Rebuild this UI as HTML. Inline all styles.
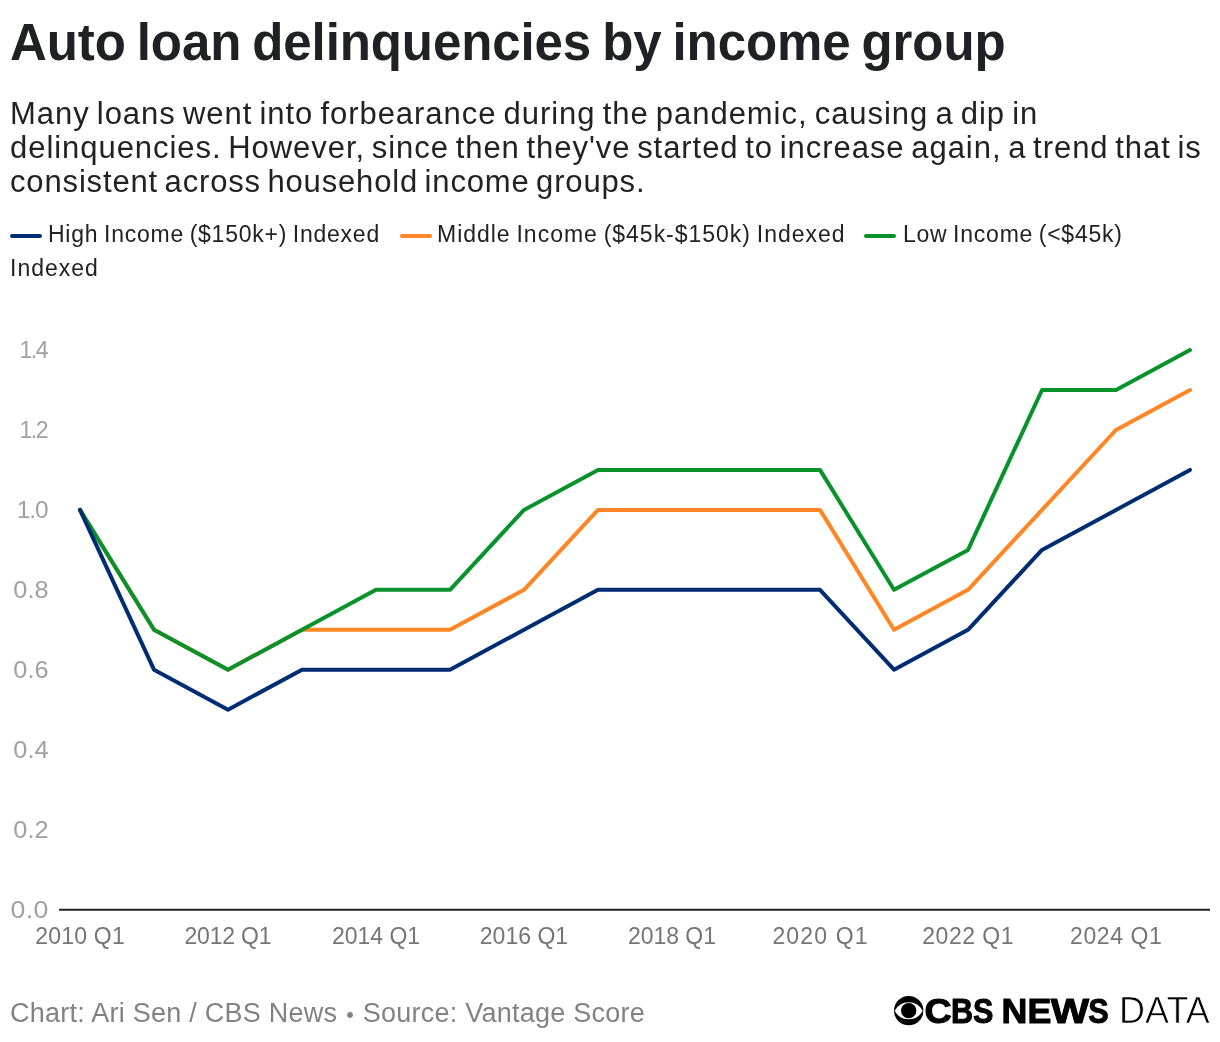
<!DOCTYPE html>
<html lang="en">
<head>
<meta charset="utf-8">
<title>Auto loan delinquencies by income group</title>
<style>
  html, body { margin: 0; padding: 0; background: #ffffff; }
  body { width: 1220px; height: 1042px; position: relative; overflow: hidden;
         font-family: "Liberation Sans", sans-serif; color: #222222; }
  .t { position: absolute; white-space: nowrap; line-height: 1; margin: 0; padding: 0; }
  #title { left: 10px; top: 17px; font-size: 51px; font-weight: 700; color: #202124; letter-spacing: -0.1px; word-spacing: -3.0px; }
  .sub { left: 10px; font-size: 31px; color: #222222; letter-spacing: 0.95px; word-spacing: -2.6px; }
  .leg { font-size: 23px; color: #222222; letter-spacing: 0.76px; word-spacing: -1.5px; }
  .sw { position: absolute; height: 4px; width: 32px; border-radius: 2px; top: 234px; }
  .yl { font-size: 23px; color: #a0a0a0; text-align: right; width: 48.5px; left: 0; transform-origin: 100% 50%; letter-spacing: -0.5px; }
  .xl { font-size: 23px; color: #757575; text-align: center; width: 140px; top: 925px; letter-spacing: 0.1px; }
  #foot { left: 10px; top: 999.5px; font-size: 27px; color: #828282; letter-spacing: 0.25px; }
  .bul { font-size: 80%; position: relative; top: 0.6px; margin: 0 1px; }
  svg { position: absolute; left: 0; top: 0; }
  svg text { font-family: "Liberation Sans", sans-serif; }
</style>
</head>
<body>
<h1 class="t" id="title">Auto loan delinquencies by income group</h1>
<div class="t sub" id="s1" style="top:98px;word-spacing:-2.33px">Many loans went into forbearance during the pandemic, causing a dip in</div>
<div class="t sub" id="s2" style="top:132px;word-spacing:-2.83px">delinquencies. However, since then they've started to increase again, a trend that is</div>
<div class="t sub" id="s3" style="top:166px;letter-spacing:0.85px;word-spacing:-3px">consistent across household income groups.</div>

<div class="sw" style="left:10px;background:#002d72"></div>
<div class="t leg" id="l1" style="left:48px;top:223px">High Income ($150k+) Indexed</div>
<div class="sw" style="left:400px;background:#ff8624"></div>
<div class="t leg" id="l2" style="left:437px;top:223px;letter-spacing:0.98px">Middle Income ($45k-$150k) Indexed</div>
<div class="sw" style="left:864px;background:#08922c"></div>
<div class="t leg" id="l3" style="left:903px;top:223px">Low Income (&lt;$45k)</div>
<div class="t leg" id="l4" style="left:10px;top:257px;letter-spacing:1px">Indexed</div>

<div class="t yl" style="top:339.1px;width:47.0px;letter-spacing:-1.5px;transform:scaleX(1.00)">1.4</div>
<div class="t yl" style="top:419.0px;width:47.0px;letter-spacing:-1.5px;transform:scaleX(1.00)">1.2</div>
<div class="t yl" style="top:498.9px;width:47.5px;letter-spacing:-1.0px;transform:scaleX(1.06)">1.0</div>
<div class="t yl" style="top:578.8px;width:48.5px;letter-spacing:0.0px;transform:scaleX(1.10)">0.8</div>
<div class="t yl" style="top:658.7px;width:48.5px;letter-spacing:0.0px;transform:scaleX(1.10)">0.6</div>
<div class="t yl" style="top:738.7px;width:48.5px;letter-spacing:0.0px;transform:scaleX(1.10)">0.4</div>
<div class="t yl" style="top:818.6px;width:48.5px;letter-spacing:0.0px;transform:scaleX(1.10)">0.2</div>
<div class="t yl" style="top:898.5px;width:48.9px;letter-spacing:0.4px;transform:scaleX(1.16)">0.0</div>

<div class="t xl" style="left:10.1px;letter-spacing:0.20px">2010 Q1</div>
<div class="t xl" style="left:157.9px;letter-spacing:-0.23px">2012 Q1</div>
<div class="t xl" style="left:306.0px;letter-spacing:-0.03px">2014 Q1</div>
<div class="t xl" style="left:454.0px;letter-spacing:0.02px">2016 Q1</div>
<div class="t xl" style="left:602.0px;letter-spacing:-0.05px">2018 Q1</div>
<div class="t xl" style="left:750.6px;letter-spacing:1.17px">2020 Q1</div>
<div class="t xl" style="left:898.2px;letter-spacing:0.50px">2022 Q1</div>
<div class="t xl" style="left:1046.3px;letter-spacing:0.60px">2024 Q1</div>

<svg id="chart" width="1220" height="1042" viewBox="0 0 1220 1042">
  <line x1="59" y1="909.7" x2="1210" y2="909.7" stroke="#222222" stroke-width="2"/>
  <g fill="none" stroke-width="4" stroke-linejoin="round" stroke-linecap="round">
    <polyline stroke="#ff8624" points="80.0,509.9 154.0,629.8 228.0,669.7 302.0,629.8 376.0,629.8 450.0,629.8 524.0,589.8 598.0,509.9 672.0,509.9 746.0,509.9 820.0,509.9 894.0,629.8 968.0,589.8 1042.0,509.9 1116.0,430.0 1190.0,390.0"/>
    <polyline stroke="#08922c" points="80.0,509.9 154.0,629.8 228.0,669.7 302.0,629.8 376.0,589.8 450.0,589.8 524.0,509.9 598.0,469.9 672.0,469.9 746.0,469.9 820.0,469.9 894.0,589.8 968.0,549.9 1042.0,390.0 1116.0,390.0 1190.0,350.1"/>
    <polyline stroke="#002d72" points="80.0,509.9 154.0,669.7 228.0,709.7 302.0,669.7 376.0,669.7 450.0,669.7 524.0,629.8 598.0,589.8 672.0,589.8 746.0,589.8 820.0,589.8 894.0,669.7 968.0,629.8 1042.0,549.9 1116.0,509.9 1190.0,469.9"/>
  </g>
  <g id="logo">
    <circle cx="908.7" cy="1010.7" r="14.65" fill="#000"/>
    <path d="M894.7 1010.7 A15.78 15.78 0 0 1 922.7 1010.7 A15.78 15.78 0 0 1 894.7 1010.7 Z" fill="#fff"/>
    <circle cx="908.7" cy="1010.7" r="7.65" fill="#000"/>
    <text y="1022.5" font-size="34.6" font-weight="700" fill="#000" stroke="#000" stroke-width="1" stroke-linejoin="round"><tspan x="924.6" textLength="27.2" lengthAdjust="spacingAndGlyphs">C</tspan><tspan x="951" textLength="42.4" lengthAdjust="spacingAndGlyphs">BS</tspan></text>
    <text y="1022.5" font-size="34.6" font-weight="700" fill="#000" stroke="#000" stroke-width="1" stroke-linejoin="round"><tspan x="1001.6" textLength="49.8" lengthAdjust="spacingAndGlyphs">NE</tspan><tspan x="1050.7" textLength="38.4" lengthAdjust="spacingAndGlyphs">W</tspan><tspan x="1088.3" textLength="20.4" lengthAdjust="spacingAndGlyphs">S</tspan></text>
    <text x="1119" y="1023.4" font-size="36.4" font-weight="400" fill="#000" stroke="#fff" stroke-width="0.7" textLength="90.8" lengthAdjust="spacingAndGlyphs">DATA</text>
  </g>
</svg>

<div class="t" id="foot">Chart: Ari Sen / CBS News <span class="bul">•</span> Source: Vantage Score</div>
</body>
</html>
